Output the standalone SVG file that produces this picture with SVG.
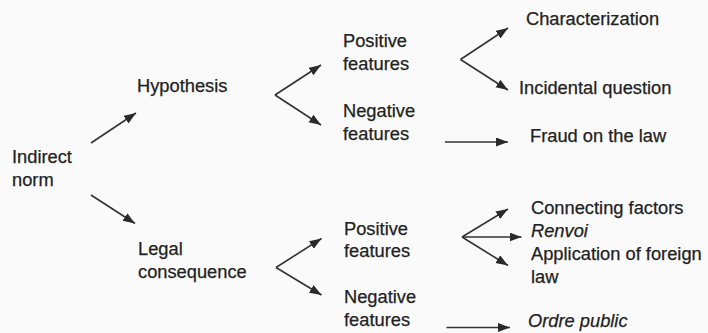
<svg xmlns="http://www.w3.org/2000/svg" width="708" height="333" viewBox="0 0 708 333">
<style>
text{font-family:"Liberation Sans",Arial,sans-serif;font-size:18.3px;fill:#222;stroke:#222;stroke-width:0.25}
.it{font-style:italic}
.c{stroke:#333;stroke-width:1.6;fill:none;marker-end:url(#ah)}
</style>
<defs>
<marker id="ah" markerUnits="userSpaceOnUse" markerWidth="13" markerHeight="10" refX="12" refY="4.5" orient="auto">
<path d="M0,0 L12,4.5 L0,9 Z" fill="#2a2a2a"/>
</marker>
</defs>
<rect width="708" height="333" fill="#fafafa"/>
<g id="connectors">
<path class="c" d="M91,143 L136,113"/>
<path class="c" d="M91,195 L135,223.5"/>
<path class="c" d="M275,95 L321,65"/>
<path class="c" d="M275,95 L321,125"/>
<path class="c" d="M276,267.5 L321.5,238.5"/>
<path class="c" d="M276,267.5 L321.5,295"/>
<path class="c" d="M460.5,59.5 L508,28"/>
<path class="c" d="M460.5,59.5 L508,90"/>
<path class="c" d="M445,142 L508,142"/>
<path class="c" d="M462,237 L508,209"/>
<path class="c" d="M462,237 L521.5,237"/>
<path class="c" d="M462,237 L508,265.5"/>
<path class="c" d="M446.5,327.5 L510,327.5"/>
</g>
<g id="indirect-norm"><text x="12" y="163">Indirect</text><text x="12" y="186">norm</text></g>
<g id="hypothesis"><text x="137" y="92">Hypothesis</text></g>
<g id="legal-consequence"><text x="138" y="255">Legal</text><text x="138" y="278">consequence</text></g>
<g id="hyp-positive"><text x="343" y="46.5">Positive</text><text x="343" y="70">features</text></g>
<g id="hyp-negative"><text x="343" y="116.5">Negative</text><text x="343" y="140">features</text></g>
<g id="leg-positive"><text x="344" y="234.5">Positive</text><text x="344" y="257">features</text></g>
<g id="leg-negative"><text x="344" y="303">Negative</text><text x="344" y="326">features</text></g>
<g id="characterization"><text x="526" y="25">Characterization</text></g>
<g id="incidental-question"><text x="519" y="94">Incidental question</text></g>
<g id="fraud"><text x="530" y="142">Fraud on the law</text></g>
<g id="connecting-factors"><text x="531" y="214">Connecting factors</text></g>
<g id="renvoi"><text class="it" x="531" y="237">Renvoi</text></g>
<g id="application"><text x="531" y="260">Application of foreign</text><text x="531" y="283">law</text></g>
<g id="ordre-public"><text class="it" x="528" y="327">Ordre public</text></g>
</svg>
